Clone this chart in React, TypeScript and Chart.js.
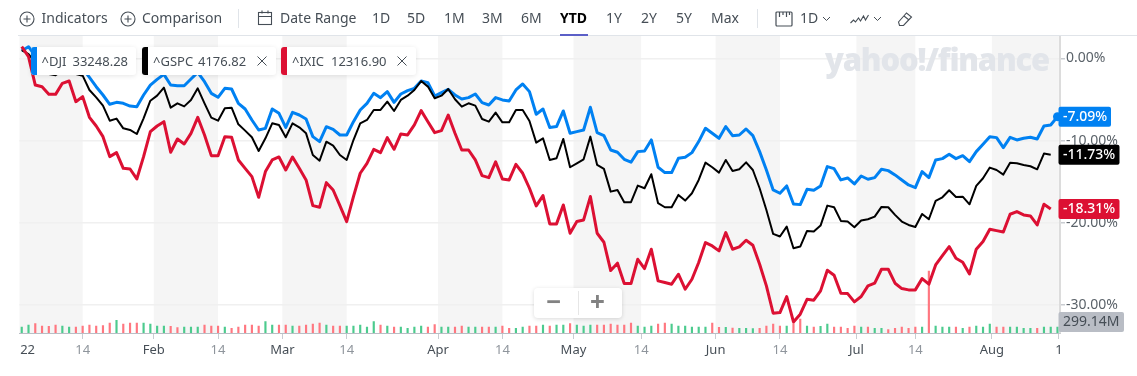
import React, { useEffect, useRef } from "react";
import { Chart, registerables } from "chart.js";

Chart.register(...registerables);

const blueValues = [
  0.92, 1.41, 0.3, -0.6, -0.9, -0.5, -0.7, -0.2, -1.4, -1.22,
  -2.31, -3.45, -4.46, -5.59, -5.35, -5.47, -5.8, -5.88, -4.46, -3.25,
  -2.56, -1.95, -3.25, -3.33, -3.33, -2.52, -1.71, -2.84, -4.26, -4.74,
  -3.65, -3.73, -5.47, -6.16, -7.5, -8.71, -8.51, -6.16, -6.69, -8.39,
  -6.57, -6.89, -7.38, -9.52, -10.13, -8.31, -8.63, -9.32, -9.32, -7.7,
  -6.28, -5.47, -4.25, -4.78, -4.05, -5.35, -4.34, -3.93, -3.65, -2.76,
  -2.96, -4.58, -4.17, -3.77, -4.46, -4.94, -4.78, -4.34, -5.39, -5.67,
  -4.78, -5.06, -5.19, -3.85, -3.12, -4.05, -6.8, -6.16, -8.42, -8.3,
  -6.4, -9.11, -8.91, -8.71, -5.95, -9.03, -9.4, -11.14, -11.42, -12.27,
  -12.63, -11.34, -11.26, -9.92, -13.24, -13.89, -13.89, -12.15, -12.03, -11.46,
  -10.12, -8.5, -9.11, -9.72, -8.3, -9.4, -9.32, -8.59, -9.4, -11.34,
  -13.57, -16.0, -16.4, -15.51, -17.7, -17.78, -15.92, -16.04, -15.51, -13.16,
  -13.41, -14.78, -14.54, -15.27, -14.3, -14.7, -14.5, -13.49, -13.65, -14.17,
  -14.78, -15.39, -15.71, -13.77, -14.5, -12.35, -12.19, -11.66, -12.19, -11.83,
  -12.56, -11.34, -10.45, -9.52, -9.64, -10.85, -9.6, -9.92, -9.72, -9.6,
  -9.8, -8.22, -8.1, -7.09,
];

const blackValues = [
  1.0, 0.5, -0.5, -1.5, -1.9, -2.05, -1.5, -1.3, -1.9, -2.11,
  -3.85, -4.74, -5.76, -7.58, -7.33, -8.51, -8.71, -9.2, -7.29, -5.15,
  -4.54, -3.57, -6.0, -5.47, -5.84, -5.07, -3.65, -5.47, -7.21, -7.58,
  -6.08, -6.0, -8.02, -8.79, -9.6, -11.26, -9.72, -7.9, -8.1, -9.6,
  -7.9, -8.39, -9.12, -11.75, -12.44, -10.13, -10.61, -11.75, -12.35, -9.93,
  -7.9, -7.49, -6.28, -6.28, -5.27, -6.4, -5.06, -4.54, -3.85, -2.76,
  -3.44, -4.86, -4.54, -3.73, -4.98, -5.87, -5.47, -5.75, -7.37, -7.7,
  -6.6, -7.78, -7.78, -6.28, -6.28, -7.61, -10.25, -9.72, -12.35, -12.15,
  -9.8, -13.24, -12.76, -12.27, -9.52, -12.96, -13.44, -16.2, -16.0, -17.49,
  -17.49, -15.47, -15.79, -14.09, -17.61, -18.1, -18.1, -16.6, -17.29, -16.4,
  -14.78, -12.68, -13.24, -13.89, -12.35, -13.69, -13.49, -12.64, -13.57, -15.79,
  -18.43, -21.34, -21.66, -20.45, -23.08, -22.88, -20.98, -21.06, -20.33, -17.9,
  -18.1, -19.76, -19.84, -20.53, -19.72, -19.56, -19.24, -18.06, -18.1, -19.03,
  -19.84, -20.25, -20.49, -18.91, -19.56, -17.33, -16.89, -16.04, -16.85, -16.81,
  -17.74, -15.51, -14.58, -13.28, -13.57, -14.13, -12.68, -12.76, -12.96, -13.12,
  -13.49, -11.58, -11.73,
];

const redValues = [
  1.41, 0.2, -3.25, -3.45, -4.38, -4.38, -3.04, -2.76, -5.27, -4.66,
  -7.17, -8.23, -9.52, -11.95, -11.46, -13.37, -13.45, -14.66, -11.95, -8.91,
  -8.23, -7.7, -11.42, -9.8, -10.41, -9.12, -7.17, -9.32, -11.83, -11.83,
  -9.52, -9.6, -12.35, -13.37, -14.38, -16.89, -13.77, -12.35, -11.99, -13.57,
  -11.99, -13.37, -14.78, -17.9, -18.1, -15.11, -16.0, -17.9, -19.84, -16.8,
  -13.97, -12.76, -11.06, -11.46, -9.64, -11.06, -9.19, -9.31, -8.1, -6.36,
  -7.7, -9.03, -8.79, -6.89, -9.11, -11.14, -11.14, -12.35, -14.25, -14.5,
  -12.59, -14.66, -14.78, -12.88, -13.97, -15.79, -17.94, -16.68, -20.12, -20.12,
  -17.82, -21.26, -19.84, -19.64, -16.8, -21.26, -22.35, -25.79, -24.9, -27.37,
  -27.37, -24.42, -25.55, -23.2, -27.05, -27.25, -27.45, -26.24, -28.06, -26.85,
  -24.82, -22.39, -22.8, -23.4, -21.18, -23.2, -22.92, -22.11, -22.72, -25.02,
  -27.66, -30.98, -30.9, -28.95, -32.03, -31.1, -29.28, -29.4, -28.26, -25.75,
  -26.36, -28.55, -28.59, -29.6, -28.95, -27.66, -27.33, -25.63, -25.63, -27.33,
  -27.98, -28.14, -28.14, -26.77, -27.45, -25.11, -23.97, -22.88, -24.3, -24.78,
  -26.2, -23.2, -22.27, -20.77, -20.94, -21.1, -18.95, -18.63, -19.03, -19.15,
  -20.25, -17.74, -18.31,
];

const volumeM = [
  300, 400, 467, 350, 333, 400, 350, 300, 300, 350,
  400, 350, 367, 500, 633, 450, 500, 500, 500, 450,
  350, 350, 333, 267, 300, 300, 300, 400, 350, 350,
  300, 233, 300, 400, 400, 350, 567, 400, 400, 400,
  350, 350, 400, 450, 500, 400, 350, 350, 350, 350,
  400, 300, 567, 400, 350, 300, 300, 233, 300, 350,
  300, 417, 300, 300, 300, 350, 300, 300, 300, 300,
  300, 350, 233, 233, 300, 350, 350, 400, 350, 400,
  400, 467, 400, 350, 400, 400, 400, 450, 400, 400,
  500, 350, 300, 350, 450, 500, 450, 350, 350, 300,
  300, 300, 500, 283, 283, 250, 233, 233, 217, 233,
  350, 450, 350, 350, 467, 700, 350, 300, 333, 450,
  300, 300, 233, 350, 300, 300, 233, 233, 167, 233,
  300, 233, 300, 300, 3100, 350, 300, 300, 300, 233,
  300, 350, 300, 450, 300, 300, 300, 300, 233, 233,
  233, 300, 300, 299.14,
];

const volumeDirection =
  "ggrrrrggrr" + "rrrrgrrrgg" + "ggrrgggrrr" + "grrrrrggrr" + "grrrrgrrgg" +
  "gggrgrgggg" + "rrggrrggrr" + "grrggrrgrg" + "grgggrrrrr" + "rgggrrgggg" +
  "ggrrgrgggr" + "rrrgrrgrgg" + "rrrrgrggrr" + "rrrgrgggrg" + "rgggrrgggg" +
  "rggg";

// x axis is the trading-day index since the first session of 2022
const xTickPositions = [0.87, 9, 19.5, 29, 38.5, 48, 61.5, 71, 81.5, 91.5, 102.5, 112, 123.3, 132, 143.3, 153.2];
const xTickLabels = ["22", "14", "Feb", "14", "Mar", "14", "Apr", "14", "May", "14", "Jun", "14", "Jul", "14", "Aug", "1"];
const yTickValues = [0, -10, -20, -30];
const bandRanges = [[-0.4, 9], [19.5, 29], [38.5, 48], [61.5, 71], [81.5, 91.5], [102.5, 112], [123.3, 132], [143.3, 153.2]];

const BLUE = "#0081f2";
const BLACK = "#000000";
const RED = "#dc1033";
const FONT = '"Noto Sans", sans-serif';
const INK = "#464e56";

const pts = (vals: number[]) => vals.map((y, x) => ({ x, y }));

const overlayPlugin = {
  id: "overlay",
  beforeDraw(chart: any) {
    const { ctx, chartArea, scales } = chart;
    ctx.save();
    ctx.fillStyle = "#f5f5f5";
    for (const [a, b] of bandRanges) {
      const l = Math.max(scales.x.getPixelForValue(a), chartArea.left);
      const r = Math.min(scales.x.getPixelForValue(b), chartArea.right);
      ctx.fillRect(l, chartArea.top, r - l, chartArea.bottom - chartArea.top);
    }
    ctx.restore();
  },
  afterDraw(chart: any) {
    const { ctx, scales } = chart;
    const pill = (text: string, cy: number, w: number, bg: string, fg: string, weight: string) => {
      ctx.save();
      ctx.fillStyle = bg;
      ctx.beginPath();
      ctx.roundRect(1058.5, cy - 10, w, 20, 2);
      ctx.fill();
      ctx.fillStyle = fg;
      ctx.font = `${weight} 14px ${FONT}`;
      ctx.textBaseline = "middle";
      ctx.textAlign = "left";
      ctx.fillText(text, 1063, cy + 0.5);
      ctx.restore();
    };
    pill("-7.09%", scales.y.getPixelForValue(-7.09), 52.5, BLUE, "#fff", "500");
    pill("-11.73%", scales.y.getPixelForValue(-11.73), 61, BLACK, "#fff", "500");
    pill("-18.31%", scales.y.getPixelForValue(-18.31), 61, RED, "#fff", "500");
    pill("299.14M", 322, 65.5, "#b9bdc5", INK, "400");
  },
};

const textStyle = (left: number, top: number, extra: React.CSSProperties = {}): React.CSSProperties => ({
  position: "absolute",
  left,
  top,
  font: `14px ${FONT}`,
  lineHeight: "20px",
  color: INK,
  whiteSpace: "nowrap",
  ...extra,
});

const iconStyle = (left: number, top: number): React.CSSProperties => ({ position: "absolute", left, top });

const PlusCircle = ({ x }: { x: number }) => (
  <svg width="16" height="16" style={iconStyle(x, 11)} viewBox="0 0 16 16" fill="none" stroke={INK} strokeWidth="1.1">
    <circle cx="8" cy="8" r="7" />
    <path d="M8 4.5v7M4.5 8h7" />
  </svg>
);

const Chevron = ({ x }: { x: number }) => (
  <svg width="9" height="6" style={iconStyle(x, 16)} viewBox="0 0 9 6" fill="none" stroke={INK} strokeWidth="1">
    <path d="M1 1l3.5 3.5L8 1" />
  </svg>
);

const Chip = ({ x, w, color, name, value, close }: { x: number; w: number; color: string; name: string; value: string; close?: number }) => (
  <div style={{ position: "absolute", left: x, top: 46.5, width: w, height: 28, background: "#fff", borderRadius: 3, boxShadow: "0 1px 5px rgba(0,0,0,0.10)" }}>
    <div style={{ position: "absolute", left: 0, top: 0, width: 6, height: 28, background: color, borderRadius: "3px 0 0 3px" }} />
    <span style={textStyle(11, 4, { fontSize: 13 })}>{name}</span>
    <span style={textStyle(close === undefined ? 42 : name === "^GSPC" ? 56 : 50, 4, { fontSize: 13 })}>{value}</span>
    {close !== undefined && (
      <svg width="10" height="10" style={iconStyle(close, 9)} viewBox="0 0 10 10" fill="none" stroke={INK} strokeWidth="1">
        <path d="M0.5 0.5l9 9M9.5 0.5l-9 9" />
      </svg>
    )}
  </div>
);

const rangeItems: [string, number][] = [["1D", 372], ["5D", 407], ["1M", 444], ["3M", 482], ["6M", 521], ["1Y", 606], ["2Y", 641], ["5Y", 676], ["Max", 711]];

export default function App() {
  const ref = useRef<HTMLCanvasElement>(null);
  useEffect(() => {
    const chart = new Chart(ref.current as HTMLCanvasElement, {
      data: {
        datasets: [
          { type: "line", label: "^IXIC", data: pts(redValues), borderColor: RED, borderWidth: 3, borderJoinStyle: "round", pointRadius: 0, tension: 0, yAxisID: "y", order: 1 },
          { type: "line", label: "^GSPC", data: pts(blackValues), borderColor: BLACK, borderWidth: 2, borderJoinStyle: "round", pointRadius: 0, tension: 0, yAxisID: "y", order: 2 },
          {
            type: "line",
            label: "^DJI",
            data: pts(blueValues),
            borderColor: BLUE,
            backgroundColor: BLUE,
            borderWidth: 3,
            borderJoinStyle: "round",
            pointRadius: blueValues.map((_, i) => (i === blueValues.length - 1 ? 4.5 : 0)),
            pointBorderWidth: 0,
            tension: 0,
            yAxisID: "y",
            order: 3,
          },
          {
            type: "bar",
            label: "Volume",
            data: pts(volumeM),
            backgroundColor: volumeM.map((_, i) => (volumeDirection[i] === "g" ? "#4ccb8e" : "#ff7780")),
            barThickness: 1.5,
            yAxisID: "y1",
            order: 4,
          },
        ],
      } as any,
      options: {
        responsive: false,
        animation: false,
        layout: { padding: { left: 19.5, top: 36, right: 0, bottom: 0 } },
        plugins: { legend: { display: false }, tooltip: { enabled: false } },
        scales: {
          x: {
            type: "linear",
            offset: false,
            min: -0.33,
            max: 153.37,
            afterBuildTicks: (s: any) => {
              s.ticks = xTickPositions.map((value) => ({ value }));
            },
            afterFit: (s: any) => {
              s.height = 43;
            },
            border: { display: true, color: "#b9bec5", width: 1 },
            grid: {
              offset: false,
              drawOnChartArea: false,
              drawTicks: true,
              tickLength: 6,
              tickColor: (c: any) => (c.index === 0 ? "rgba(0,0,0,0)" : "#c9ccd1"),
            },
            ticks: {
              autoSkip: false,
              maxRotation: 0,
              padding: 3,
              font: { family: "Noto Sans", size: 13 },
              color: (c: any) => (xTickLabels[c.index] === "14" ? "#8f959c" : INK),
              callback: (_v: any, i: number) => xTickLabels[i],
            },
          },
          y: {
            position: "right",
            min: -33.38,
            max: 2.71,
            afterBuildTicks: (s: any) => {
              s.ticks = yTickValues.map((value) => ({ value }));
            },
            afterFit: (s: any) => {
              s.width = 77;
            },
            border: { display: true, color: "#dcdcdc", width: 2 },
            grid: { color: "#f0f0f0", lineWidth: 1.5, tickLength: 5, tickColor: "#c9ccd1" },
            ticks: {
              padding: 1,
              font: { family: "Noto Sans", size: 14 },
              color: "#5b636a",
              callback: (v: any) => `${Number(v).toFixed(2)}%`,
            },
          },
          y1: { display: false, min: 0, max: 14850 },
        },
      } as any,
      plugins: [overlayPlugin] as any,
    });
    return () => chart.destroy();
  }, []);

  return (
    <div style={{ position: "fixed", left: 0, top: 0, width: 1137, height: 376, background: "#fff", overflow: "hidden" }}>
      <canvas ref={ref} width={1137} height={376} style={{ position: "absolute", left: 0, top: 0, width: 1137, height: 376 }} />

      <div style={{ position: "absolute", left: 18, right: 0, top: 35, height: 1, background: "#e0e4e9" }} />
      <PlusCircle x={19} />
      <span style={textStyle(41.5, 8)}>Indicators</span>
      <PlusCircle x={120} />
      <span style={textStyle(142, 8)}>Comparison</span>
      <div style={{ position: "absolute", left: 238, top: 9, width: 1, height: 19, background: "#e0e4e9" }} />
      <svg width="16" height="16" style={iconStyle(257, 10)} viewBox="0 0 16 16" fill="none" stroke={INK} strokeWidth="1.1">
        <rect x="1.5" y="2.5" width="13" height="12" />
        <path d="M1.5 6.5h13M5 0.5v3M11 0.5v3" />
      </svg>
      <span style={textStyle(280, 8)}>Date Range</span>
      {rangeItems.map(([t, x]) => (
        <span key={t} style={textStyle(x, 8)}>{t}</span>
      ))}
      <span style={textStyle(560, 8, { fontWeight: 700, color: "#000" })}>YTD</span>
      <div style={{ position: "absolute", left: 560, top: 34, width: 28, height: 2, background: "#5b5fc7" }} />
      <div style={{ position: "absolute", left: 757, top: 9, width: 1, height: 19, background: "#e0e4e9" }} />
      <svg width="18" height="18" style={iconStyle(775, 10)} viewBox="0 0 18 18" fill="none" stroke={INK} strokeWidth="1.2">
        <rect x="1" y="2" width="16" height="14" rx="1" />
        <path d="M4.5 2v5M8 2v3M11.5 2v5M14.5 2v3" />
      </svg>
      <span style={textStyle(800, 8)}>1D</span>
      <Chevron x={822} />
      <svg width="19" height="12" style={iconStyle(850, 13)} viewBox="0 0 19 12" fill="none" stroke={INK} strokeWidth="1.1">
        <path d="M0.5 10l3-3 2 2 3-4 2 3 3-5 2 4 3-5" />
      </svg>
      <Chevron x={873} />
      <svg width="16" height="16" style={iconStyle(897, 11)} viewBox="0 0 16 16" fill="none" stroke={INK} strokeWidth="1.1">
        <path d="M1.5 11l8-9 5 4-8 8.5h-4z" />
        <path d="M7 5l5 4" />
      </svg>

      <span style={textStyle(825, 41, { font: `800 31px "Open Sans", sans-serif`, lineHeight: "36px", color: "#e2e5ea", letterSpacing: "-1.2px" })}>yahoo!/finance</span>

      <Chip x={30.5} w={105} color={BLUE} name="^DJI" value="33248.28" />
      <Chip x={142} w={133.5} color={BLACK} name="^GSPC" value="4176.82" close={115} />
      <Chip x={281} w={134.5} color={RED} name="^IXIC" value="12316.90" close={116} />

      <div style={{ position: "absolute", left: 534, top: 288, width: 88, height: 30, background: "#fff", borderRadius: 4, boxShadow: "0 1px 4px rgba(0,0,0,0.15)" }}>
        <div style={{ position: "absolute", left: 44, top: 3, width: 1, height: 24, background: "#e6e6e6" }} />
        <span style={textStyle(12, -3, { font: `700 26px ${FONT}`, lineHeight: "32px", color: "#828282" })}>−</span>
        <span style={textStyle(56, -3, { font: `700 26px ${FONT}`, lineHeight: "32px", color: "#828282" })}>+</span>
      </div>
    </div>
  );
}
